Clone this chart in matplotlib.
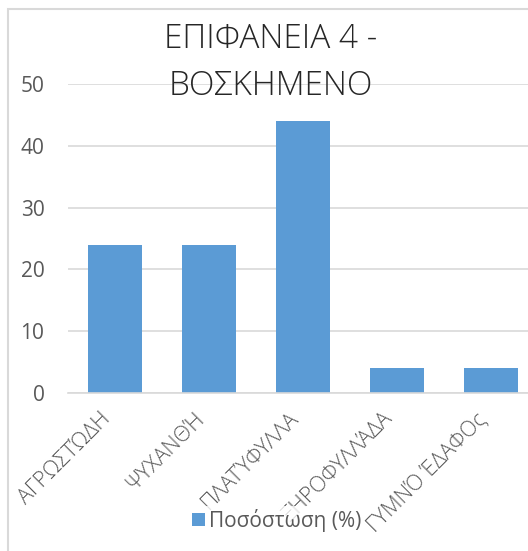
import matplotlib
matplotlib.use("Agg")
import matplotlib.pyplot as plt
from matplotlib.patches import Rectangle
from matplotlib import font_manager

categories = ["ΑΓΡΩΣΤΏΔΗ", "ΨΥΧΑΝΘΉ", "ΠΛΑΤΎΦΥΛΛΑ", "ΞΗΡΟΦΥΛΛΆΔΑ", "ΓΥΜΝΌ ΈΔΑΦΟς"]
values = [24, 24, 44, 4, 4]
yticks = [0, 10, 20, 30, 40, 50]
title = "ΕΠΙΦΑΝΕΙΑ 4 -\nΒΟΣΚΗΜΕΝΟ"
series_name = "Ποσόστωση (%)"

plt.rcParams['font.family'] = ['Open Sans', 'DejaVu Sans']

# pick a light-weight font with Greek glyphs if one is installed
light_family, light_weight = "Open Sans", "normal"
for fam in ["Open Sans", "Noto Sans", "Roboto", "Inter"]:
    found = [f for f in font_manager.fontManager.ttflist
             if f.name == fam and isinstance(f.weight, int) and f.weight <= 300 and f.style == "normal"]
    if found:
        light_family, light_weight = fam, 300
        break

W, H = 528, 551
fig = plt.figure(figsize=(W / 100, H / 100), dpi=100)
fig.patch.set_facecolor("white")

fig.patches.append(Rectangle((8 / W, -0.1), 1.2, (H - 9) / H + 0.1, transform=fig.transFigure,
                             fill=False, edgecolor="#d9d9d9", linewidth=1.5))

ax_left, ax_right = 68, 538
ax_top, ax_bot = 84, 393
ax = fig.add_axes([ax_left / W, (H - ax_bot) / H, (ax_right - ax_left) / W, (ax_bot - ax_top) / H])
ax.set_facecolor("none")

x = list(range(len(categories)))
bars = ax.bar(x, values, width=0.575, color="#5b9bd5", zorder=3, label=series_name)
ax.set_xlim(-0.5, len(categories) - 0.5)
ax.set_ylim(0, 50)
ax.set_yticks(yticks)
ax.yaxis.grid(True, color="#d9d9d9", linewidth=1.2, zorder=0)
ax.set_axisbelow(True)
for s in ["top", "right", "left"]:
    ax.spines[s].set_visible(False)
ax.spines["bottom"].set_color("#d9d9d9")
ax.spines["bottom"].set_linewidth(1.2)
ax.spines["bottom"].set_zorder(4)
ax.tick_params(axis="both", length=0, colors="#595959")
ax.tick_params(axis="y", labelsize=15, pad=17)
ax.set_xticks(x)
ax.set_xticklabels(categories, rotation=45, ha="right", va="top", fontsize=15.5,
                   color="#595959", family=[light_family, "DejaVu Sans"], fontweight=light_weight)
ax.tick_params(axis="x", pad=11)

fig.text(271 / W, 1 - 63 / H, title, ha="center", va="center", fontsize=24,
         color="#262626", linespacing=1.52, family=[light_family, "DejaVu Sans"],
         fontweight=light_weight, zorder=1)

leg = fig.legend(handles=[bars], labels=[series_name], loc="center",
                 bbox_to_anchor=(277 / W, 1 - 520 / H), frameon=True, fontsize=15,
                 handlelength=0.6, handleheight=0.6, handletextpad=0.2, borderpad=0.1,
                 labelcolor="#595959")
leg.get_frame().set_facecolor("white")
leg.get_frame().set_edgecolor("none")
leg.set_zorder(10)

fig.savefig("out.png", dpi=100, facecolor="white")
